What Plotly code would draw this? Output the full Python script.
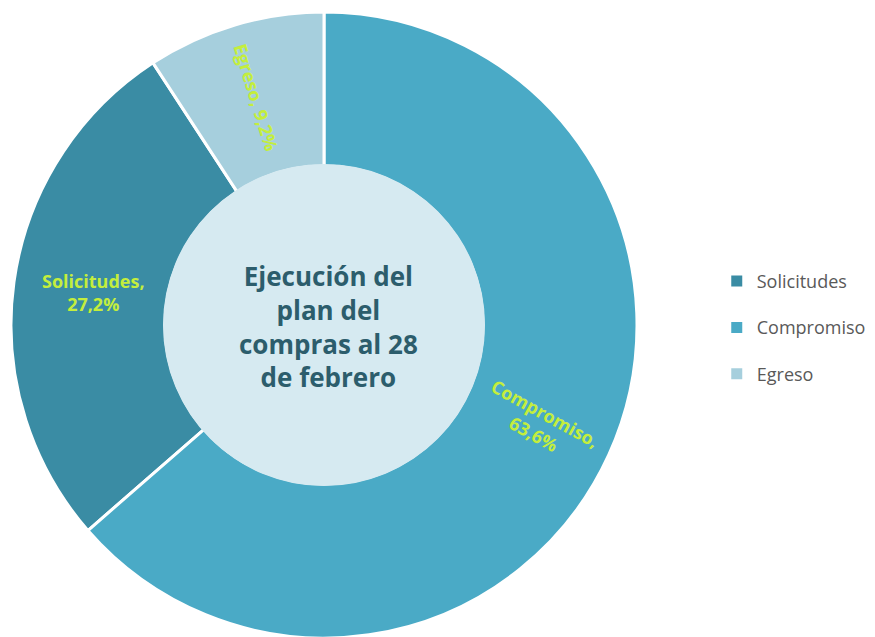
import math
import plotly.graph_objects as go

# data
labels = ['Solicitudes', 'Compromiso', 'Egreso']
values = [27.2, 63.6, 9.2]
colors = ['#3a8ca4', '#4aaac6', '#a6cfdd']
center_text = 'Ejecución del<br>plan del<br>compras al 28<br>de febrero'

W, H = 875, 637
cx, cy, R = 316, 317, 313  # pie centre / radius in px (page has 8px body margin)
hole = 0.508

# label placement: radius in px, text angle
label_radius = [233, 237, 238]
label_tangle = [0, 29, 73]

total = sum(values)
fig = go.Figure()
fig.add_trace(go.Pie(
    labels=labels, values=values, sort=False,
    direction='counterclockwise', rotation=-(values[0] + values[2]) / total * 360,
    hole=hole, textinfo='none', hoverinfo='label+percent',
    marker=dict(colors=colors, line=dict(color='white', width=3)),
    domain=dict(x=[(cx - R) / W, (cx + R) / W], y=[1 - (cy + R) / H, 1 - (cy - R) / H]),
    showlegend=False,
))

# legend via dummy traces so spacing can match
for lab, col in zip(labels, colors):
    fig.add_trace(go.Scatter(x=[None], y=[None], mode='markers', name=lab,
                             legendgroup=lab,
                             marker=dict(symbol='square', size=11, color=col)))

# slice labels at the middle of each slice, angle clockwise from 12 o'clock
ang = 360 - values[2] / total * 360
mids = []
for v in values:
    span = v / total * 360
    mids.append(ang - span / 2)
    ang -= span
for i, lab in enumerate(labels):
    a = math.radians(mids[i])
    x = cx + label_radius[i] * math.sin(a)
    y = cy - label_radius[i] * math.cos(a)
    txt = f"{lab},<br>{values[i]:.1f}%".replace('.', ',')
    if i == 2:
        txt = txt.replace('<br>', ' ')
    fig.add_annotation(x=x / W, y=1 - y / H, xref='paper', yref='paper',
                       xanchor='center', yanchor='middle',
                       text=f"<b>{txt}</b>", showarrow=False, textangle=label_tangle[i],
                       font=dict(family='Open Sans', size=18, color='#c4ee3c'))

# filled centre (drawn over the inner white edge)
hr = R * hole + 2
fig.add_shape(type='circle', xref='paper', yref='paper', layer='above',
              x0=(cx - hr) / W, x1=(cx + hr) / W, y0=1 - (cy + hr) / H, y1=1 - (cy - hr) / H,
              fillcolor='#d6eaf1', line=dict(width=0))
fig.add_annotation(x=(cx + 4) / W, y=1 - (cy + 2) / H, xref='paper', yref='paper',
                   xanchor='center', yanchor='middle',
                   text=f"<b>{center_text}</b>", showarrow=False, align='center',
                   font=dict(family='Open Sans', size=26, color='#2c5d6c'))

fig.update_layout(
    width=W, height=H, margin=dict(l=0, r=0, t=0, b=0),
    paper_bgcolor='white', plot_bgcolor='white',
    xaxis=dict(visible=False), yaxis=dict(visible=False),
    legend=dict(x=0.81, y=0.6, xanchor='left', yanchor='top', tracegroupgap=20,
                font=dict(family='Open Sans', size=18, color='#595959')),
)
fig.write_html("out.html")
